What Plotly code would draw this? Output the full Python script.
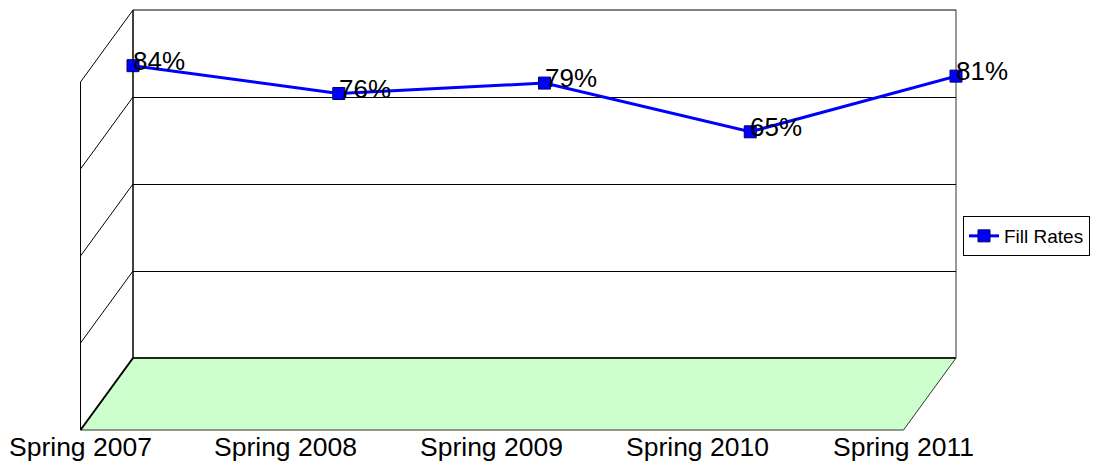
import plotly.graph_objects as go

categories = ["Spring 2007", "Spring 2008", "Spring 2009", "Spring 2010", "Spring 2011"]
fill_rates = [0.84, 0.76, 0.79, 0.65, 0.81]
value_labels = ["84%", "76%", "79%", "65%", "81%"]
series_name = "Fill Rates"
grid_levels = [0.0, 0.25, 0.5, 0.75, 1.0]

# page body has an 8px margin; figure is sized/positioned to compensate
W, H = 1090, 460
OFF = 8
ml, mt = 133 - OFF, 10 - OFF
mr = W - (956 - OFF)
mb = H - (358 - OFF)
pw = W - ml - mr
ph = H - mt - mb
dx = -52.5 / pw   # depth offset in paper units
dy = -72.0 / ph

FONT = "Liberation Sans, Arial, sans-serif"
xs = list(range(len(categories)))

fig = go.Figure()
fig.add_trace(go.Scatter(
    x=xs, y=fill_rates, mode="lines+markers", name=series_name,
    line=dict(color="#0000FF", width=3),
    marker=dict(symbol="square", size=12, color="#0000FF",
                line=dict(color="#000066", width=1)),
    cliponaxis=False,
))

shapes = []
# floor
shapes.append(dict(type="path", xref="paper", yref="paper",
                   path=f"M 0 0 L 1 0 L {1+dx} {dy} L {dx} {dy} Z",
                   fillcolor="#CCFFCC", line=dict(color="#333333", width=1),
                   layer="below"))
shapes.append(dict(type="line", xref="paper", yref="paper", x0=0, y0=0, x1=dx, y1=dy,
                   line=dict(color="black", width=2)))
shapes.append(dict(type="line", xref="paper", yref="paper", x0=0, y0=0, x1=1, y1=0,
                   line=dict(color="black", width=1.5)))
# left wall
shapes.append(dict(type="line", xref="paper", yref="paper", x0=dx, y0=dy, x1=dx, y1=1+dy,
                   line=dict(color="black", width=1)))
for g in grid_levels[1:]:
    shapes.append(dict(type="line", xref="paper", yref="paper", x0=0, y0=g, x1=dx, y1=g+dy,
                       line=dict(color="black", width=1)))
# back wall edges
shapes.append(dict(type="line", xref="paper", yref="paper", x0=0, y0=0, x1=0, y1=1,
                   line=dict(color="black", width=1.5), layer="below"))
shapes.append(dict(type="line", xref="paper", yref="paper", x0=1, y0=0, x1=1, y1=1,
                   line=dict(color="#777777", width=1.5), layer="below"))
shapes.append(dict(type="line", xref="paper", yref="paper", x0=0, y0=1, x1=1, y1=1,
                   line=dict(color="black", width=1), layer="below"))

annotations = []
for x, v, t in zip(xs, fill_rates, value_labels):
    annotations.append(dict(x=x, y=v, xref="x", yref="y", text=t, showarrow=False,
                            xanchor="left", yanchor="middle", xshift=-2, yshift=5,
                            font=dict(family=FONT, size=26, color="black")))
for x, c in zip(xs, categories):
    annotations.append(dict(x=x, y=0, xref="x", yref="y", text=c, showarrow=False,
                            xanchor="center", yanchor="middle", xshift=-53, yshift=-89,
                            font=dict(family=FONT, size=26.5, color="black")))

fig.update_layout(
    width=W, height=H,
    margin=dict(l=ml, r=mr, t=mt, b=mb, pad=0),
    paper_bgcolor="white", plot_bgcolor="white",
    font=dict(family=FONT, color="black"),
    xaxis=dict(range=[0, 4], showgrid=False, zeroline=False, showticklabels=False,
               showline=False, ticks="", fixedrange=True),
    yaxis=dict(range=[0, 1], tickvals=grid_levels, showgrid=True, gridcolor="black",
               gridwidth=1, zeroline=False, showticklabels=False, showline=False,
               ticks="", fixedrange=True),
    shapes=shapes,
    annotations=annotations,
    showlegend=True,
    legend=dict(x=(963 - OFF - ml) / pw, y=(358 - 216) / ph, xanchor="left", yanchor="top",
                bordercolor="black", borderwidth=1, bgcolor="white",
                font=dict(family=FONT, size=19, color="black"),
                itemwidth=30, tracegroupgap=0),
)

fig.write_html("out.html")
